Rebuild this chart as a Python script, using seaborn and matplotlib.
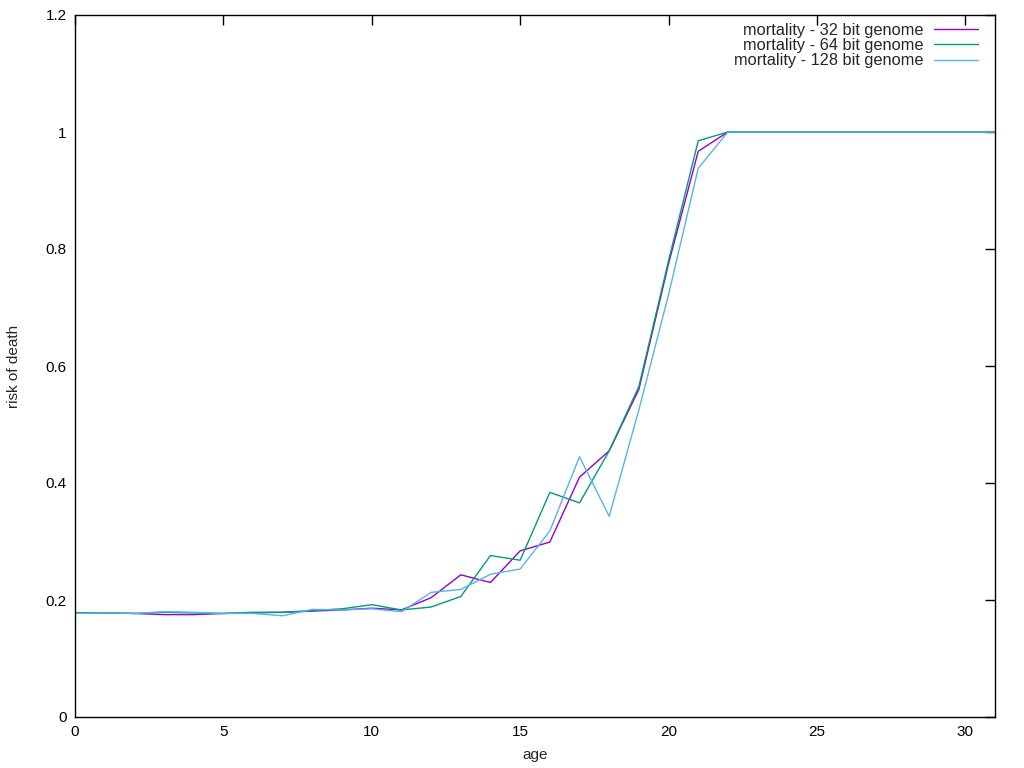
import pandas as pd
import matplotlib.pyplot as plt
import seaborn as sns

# mortality curves, ages 0..31
age = list(range(32))
mort_32 = [0.178, 0.178, 0.177, 0.175, 0.175, 0.177, 0.178, 0.179, 0.181, 0.183,
           0.186, 0.183, 0.204, 0.243, 0.230, 0.284, 0.299, 0.410, 0.455, 0.560,
           0.775, 0.967] + [1.0] * 10
mort_64 = [0.178, 0.178, 0.177, 0.179, 0.178, 0.177, 0.179, 0.179, 0.182, 0.185,
           0.192, 0.183, 0.188, 0.206, 0.276, 0.268, 0.384, 0.366, 0.455, 0.565,
           0.780, 0.985] + [1.0] * 10
mort_128 = [0.177, 0.178, 0.177, 0.180, 0.179, 0.177, 0.177, 0.173, 0.184, 0.183,
            0.185, 0.180, 0.213, 0.218, 0.244, 0.253, 0.318, 0.445, 0.343, 0.525,
            0.722, 0.938] + [1.0] * 10

labels = ['mortality - 32 bit genome', 'mortality - 64 bit genome', 'mortality - 128 bit genome']
colors = ['#9400d3', '#009e73', '#56b4e9']

df = pd.DataFrame({
    'age': age * 3,
    'risk': mort_32 + mort_64 + mort_128,
    'series': [labels[0]] * 32 + [labels[1]] * 32 + [labels[2]] * 32,
})

sns.set_style('white')
plt.rcParams['font.family'] = ['Liberation Sans', 'DejaVu Sans']

fig = plt.figure(figsize=(10.24, 7.68), dpi=100)
ax = fig.add_axes([75 / 1024, 51 / 768, 920 / 1024, 702 / 768])
sns.lineplot(data=df, x='age', y='risk', hue='series', palette=colors,
             hue_order=labels, linewidth=1, ax=ax)

ax.set_xlim(0, 31)
ax.set_ylim(0, 1.2)
ax.set_xticks(range(0, 31, 5))
ax.set_yticks([0, 0.2, 0.4, 0.6, 0.8, 1.0, 1.2])
ax.set_yticklabels(['0', '0.2', '0.4', '0.6', '0.8', '1', '1.2'])
ax.tick_params(direction='in', length=7, width=1, top=True, right=True,
               labelsize=11, colors='black', pad=6)
for s in ax.spines.values():
    s.set_color('black')
    s.set_linewidth(1)
ax.set_xlabel('age', fontsize=11)
ax.set_ylabel('risk of death', fontsize=11)
ax.yaxis.set_label_coords(-0.059, 0.5)
ax.xaxis.set_label_coords(0.5, -0.044)

ax.legend(loc='upper right', bbox_to_anchor=(0.9815, 0.989), frameon=False,
          markerfirst=False, fontsize=11.8, handlelength=2.7, labelspacing=0.02,
          borderaxespad=0, borderpad=0, handletextpad=0.65)

fig.savefig('out.png', dpi=100)
